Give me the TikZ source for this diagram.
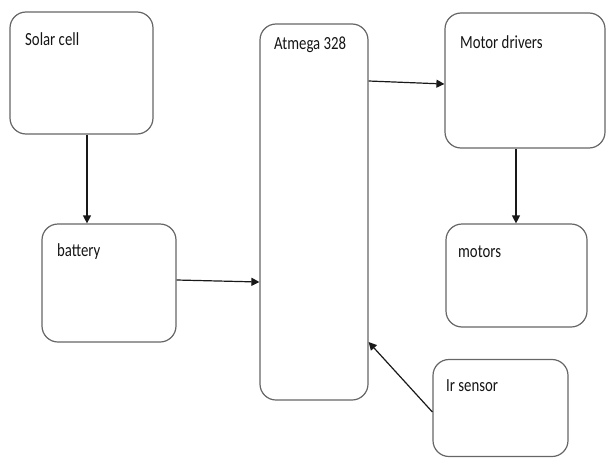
\documentclass[tikz,border=0pt]{standalone}
\usepackage{fontspec}
\setmainfont{Carlito}
\usepackage{tikz}
\usetikzlibrary{arrows.meta}
\tikzset{>={Triangle[length=8pt,width=8pt]}}

\begin{document}
\begin{tikzpicture}[x=1pt,y=-1pt,shorten >=0pt,->]
  \tikzstyle{block}=[draw=black!60,line width=1.2pt,rounded corners=16pt,shape=rectangle,inner sep=0pt]
  \tikzstyle{boxtext}=[anchor=west,inner sep=0pt,xscale=0.8,font=\fontsize{18.5}{20}\selectfont,text=black!92]
  \tikzstyle{wire}=[line width=1.2pt,draw=black!90]
  \useasboundingbox (0,0) rectangle (608,458);
  \node[block,minimum width=143pt,minimum height=122pt](solar) at (81.5,73){};
  \node[block,minimum width=134pt,minimum height=118pt](batt) at (109,283){};
  \node[block,minimum width=108pt,minimum height=376pt](atmega) at (314,212){};
  \node[block,minimum width=160pt,minimum height=135pt](drivers) at (525,80.5){};
  \node[block,minimum width=141pt,minimum height=103pt](motors) at (516.5,275.5){};
  \node[block,minimum width=135pt,minimum height=97pt](irs) at (500.5,408){};
  % labels
  \node[boxtext](tsolar) at (25,39){Solar cell};
  \node[boxtext](tbatt) at (57,252){battery};
  \node[boxtext](tatmega) at (274,45){Atmega 328};
  \node[boxtext](tdrivers) at (460,42){Motor drivers};
  \node[boxtext](tmotors) at (458,252){motors};
  \node[boxtext](tirs) at (446,386){Ir sensor};
  % arrows
  \draw[wire] (solar.south -| 87,0) -- (batt.north -| 87,0);
  \draw[wire] (batt.east |- 0,280) -- (atmega.west |- 0,282);
  \draw[wire] (atmega.east |- 0,81) -- (drivers.west |- 0,84);
  \draw[wire] (drivers.south -| 516,0) -- (motors.north -| 516,0);
  \draw[wire] (irs.west |- 0,412) -- (atmega.east |- 0,342);
\end{tikzpicture}
\end{document}
